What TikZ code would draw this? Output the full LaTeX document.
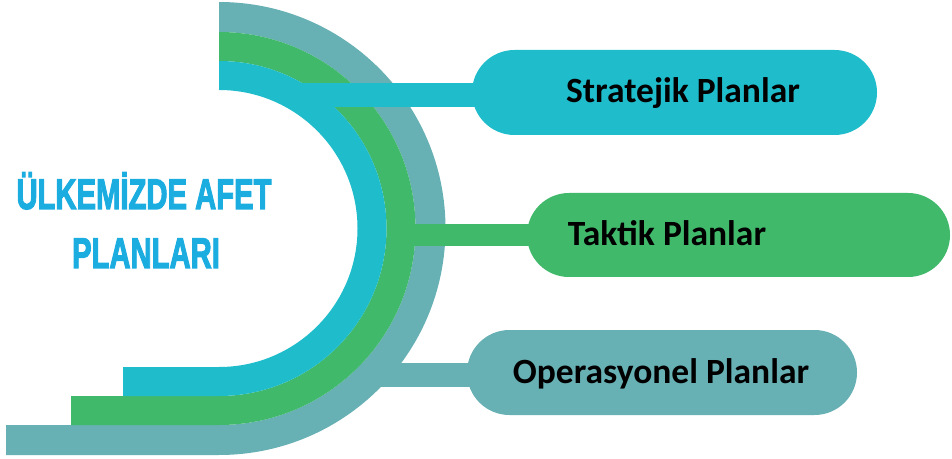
\documentclass[tikz,border=0pt]{standalone}
\usepackage{fontspec}
\setmainfont{Carlito}
\newfontfamily\titlefont[FakeBold=3]{Liberation Sans}
\usetikzlibrary{shapes.misc}
\definecolor{cteal}{RGB}{103,177,181}
\definecolor{cgreen}{RGB}{65,185,107}
\definecolor{ccyan}{RGB}{31,189,204}
\definecolor{ctitle}{RGB}{27,172,224}
\tikzset{
  pill/.style={rounded rectangle, inner sep=0pt, draw=none},
  lbl/.style={anchor=base, text=black, font=\fontsize{35.5}{40}\selectfont\bfseries},
  ttl/.style={anchor=base, text=ctitle, font=\titlefont\bfseries\fontsize{43}{48}\selectfont},
  bar/.style={line cap=butt}
}
\begin{document}
\begin{tikzpicture}[x=1pt,y=1pt]
\useasboundingbox (0,0) rectangle (952,458);
% bands: outer teal, green, cyan (centre 219,229.5)
\fill[cteal] (219,229.5+226.5) arc[start angle=90,end angle=-90,radius=226.5]
  -- (6,229.5-226.5) -- (6,229.5-196.5) -- (219,229.5-196.5)
  arc[start angle=-90,end angle=90,radius=196.5] -- cycle;
\fill[cgreen] (219,229.5+196.5) arc[start angle=90,end angle=-90,radius=196.5]
  -- (71,229.5-196.5) -- (71,229.5-167.5) -- (219,229.5-167.5)
  arc[start angle=-90,end angle=90,radius=167.5] -- cycle;
\fill[ccyan] (219,229.5+167.5) arc[start angle=90,end angle=-90,radius=167.5]
  -- (123,229.5-167.5) -- (123,229.5-138.5) -- (219,229.5-138.5)
  arc[start angle=-90,end angle=90,radius=138.5] -- cycle;
% pill centres
\coordinate (c1) at (674.5,365.5);
\coordinate (c2) at (738.5,223);
\coordinate (c3) at (662,85.5);
% connector starts inside their own band
\coordinate (s1) at (295,363);
\coordinate (s2) at (395,223);
\coordinate (s3) at (375,83);
\draw[bar, ccyan, line width=24pt] (s1) -- (s1 -| c1);
\draw[bar, cgreen, line width=22pt] (s2) -- (s2 -| c2);
\draw[bar, cteal, line width=24pt] (s3) -- (s3 -| c3);
% pills
\node[pill, fill=ccyan, minimum width=405pt, minimum height=85pt] (p1) at (c1) {};
\node[pill, fill=cgreen, minimum width=423pt, minimum height=84pt] (p2) at (c2) {};
\node[pill, fill=cteal, minimum width=390pt, minimum height=85pt] (p3) at (c3) {};
% labels
\node[lbl] (t1) at (683,355) {Stratejik Planlar};
\node[lbl] (t2) at (667,212) {Taktik Planlar};
\node[lbl] (t3) at (661,75) {Operasyonel Planlar};
% title
\node[ttl] (h1) at (144,249) {\scalebox{0.68}[1]{ÜLKEMİZDE AFET}};
\node[ttl] (h2) at (146,190) {\scalebox{0.68}[1]{PLANLARI}};
\end{tikzpicture}
\end{document}
